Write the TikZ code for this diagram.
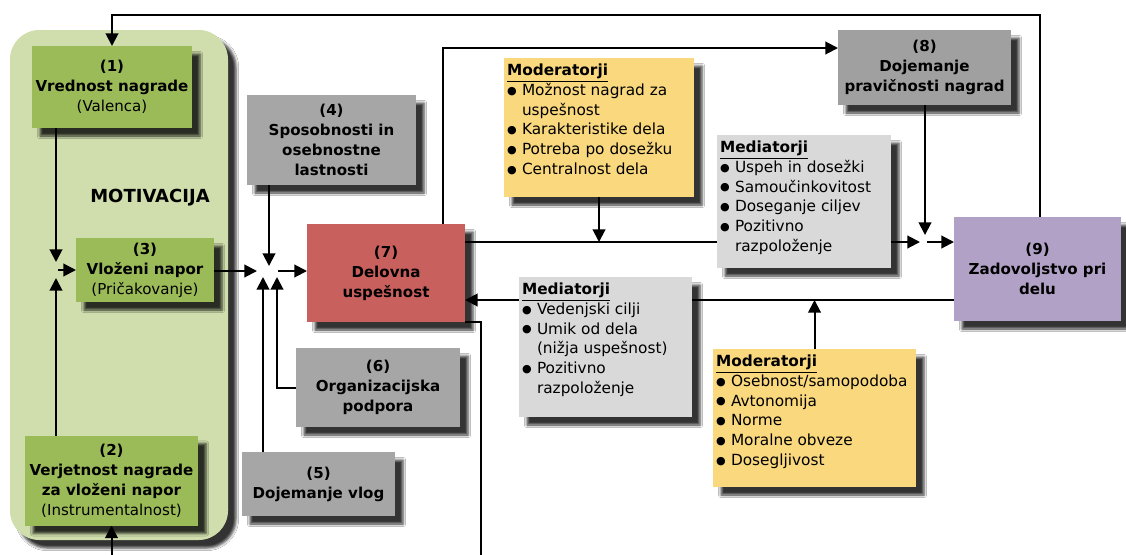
\documentclass[tikz,border=0pt]{standalone}
\usepackage{fontspec}
\usepackage{graphicx}
\setmainfont{DejaVu Sans}
\usetikzlibrary{arrows.meta,shadows.blur,calc}
\pgfdeclarelayer{bg}
\pgfsetlayers{bg,main}

% one drawing unit = one pixel of the layout grid
\newdimen\px \px=0.75pt

\definecolor{motivbg}{RGB}{207,222,172}
\definecolor{motivgreen}{RGB}{155,187,89}
\definecolor{boxgray}{RGB}{166,166,166}
\definecolor{boxgraydk}{RGB}{160,160,160}
\definecolor{perfred}{RGB}{200,96,94}
\definecolor{satpurple}{RGB}{178,161,199}
\definecolor{modyellow}{RGB}{250,216,126}
\definecolor{medgray}{RGB}{217,217,217}

% list bullet with a hanging indent
\newcommand\bl{\makebox[15\px][l]{\raisebox{0.15ex}{\scalebox{0.72}{●}}}}
\newcommand\ind{\hspace*{15\px}}

\begin{document}
\begin{tikzpicture}[x=0.75pt,y=-0.75pt,
  every node/.style={inner sep=0pt,outer sep=0pt},
  dropsh/.style={blur shadow={shadow xshift=6pt,shadow yshift=-6pt,
      shadow blur radius=2pt,shadow opacity=80}},
  numbox/.style={dropsh,align=center,font=\bfseries\fontsize{11.3}{15}\selectfont},
  greenbox/.style={numbox,fill=motivgreen},
  graybox/.style={numbox,fill=boxgray},
  listbox/.style={dropsh},
  listtext/.style={anchor=north west,align=left,font=\fontsize{11.5}{14.8}\selectfont},
  line/.style={line width=1.5pt},
  arr/.style={line,-{Triangle[length=9.5pt,width=9.5pt]}},
]
\useasboundingbox (0,0) rectangle (1126,554);
\clip (0,0) rectangle (1126,554);

\node[font=\bfseries\fontsize{13.5}{16}\selectfont] (motivlabel) at (150,198) {MOTIVACIJA};

% numbered factors
\node[greenbox,minimum width=160\px,minimum height=82\px] (n1) at (112,87) {(1)\\Vrednost nagrade\\\mdseries(Valenca)};
\node[greenbox,minimum width=138\px,minimum height=64\px] (n3) at (145,270) {(3)\\Vloženi napor\\\mdseries(Pričakovanje)};
\node[greenbox,minimum width=173\px,minimum height=90\px] (n2) at (111.5,480.5) {(2)\\Verjetnost nagrade\\za vloženi napor\\\mdseries(Instrumentalnost)};
\node[graybox,minimum width=169\px,minimum height=90\px] (n4) at (331.5,140) {(4)\\Sposobnosti in\\osebnostne\\lastnosti};
\node[numbox,fill=perfred,minimum width=158\px,minimum height=98\px] (n7) at (386,273) {(7)\\Delovna\\uspešnost};
\node[graybox,minimum width=164\px,minimum height=79\px] (n6) at (378,387.5) {(6)\\Organizacijska\\podpora};
\node[graybox,minimum width=153\px,minimum height=64\px] (n5) at (318.5,484) {(5)\\Dojemanje vlog};
\node[numbox,fill=boxgraydk,minimum width=173\px,minimum height=75\px] (n8) at (924.5,67.5) {(8)\\Dojemanje\\pravičnosti nagrad};
\node[numbox,fill=satpurple,minimum width=167\px,minimum height=104\px] (n9) at (1037.5,269) {(9)\\Zadovoljstvo pri\\delu};

% moderator and mediator lists
\node[listbox,fill=modyellow,minimum width=190\px,minimum height=139\px] (modTop) at (599,127.5) {};
\node[listtext] (modTopTxt) at ($(modTop.north west)+(3,6)$)
  {\underline{\textbf{Moderatorji}}\\\bl Možnost nagrad za\\\ind uspešnost\\\bl Karakteristike dela\\\bl Potreba po dosežku\\\bl Centralnost dela};
\node[listbox,fill=medgray,minimum width=174\px,minimum height=133\px] (medTop) at (804,201.5) {};
\node[listtext] (medTopTxt) at ($(medTop.north west)+(3,6)$)
  {\underline{\textbf{Mediatorji}}\\\bl Uspeh in dosežki\\\bl Samoučinkovitost\\\bl Doseganje ciljev\\\bl Pozitivno\\\ind razpoloženje};
\node[listbox,fill=medgray,minimum width=173\px,minimum height=140\px] (medBot) at (605.5,347) {};
\node[listtext] (medBotTxt) at ($(medBot.north west)+(3,6)$)
  {\underline{\textbf{Mediatorji}}\\\bl Vedenjski cilji\\\bl Umik od dela\\\ind (nižja uspešnost)\\\bl Pozitivno\\\ind razpoloženje};
\node[listbox,fill=modyellow,minimum width=203\px,minimum height=138\px] (modBot) at (814.5,418) {};
\node[listtext] (modBotTxt) at ($(modBot.north west)+(3,6)$)
  {\underline{\textbf{Moderatorji}}\\\bl Osebnost/samopodoba\\\bl Avtonomija\\\bl Norme\\\bl Moralne obveze\\\bl Dosegljivost};

% junction points and routing coordinates
\coordinate (J1n) at (56,262);
\coordinate (J1s) at (56,278);
\coordinate (J1e) at (58,270);
\coordinate (J2w) at (257,271);
\coordinate (J2n) at (269,266);
\coordinate (J2a) at (263,277);
\coordinate (J2b) at (277,277);
\coordinate (J2e) at (278,271);
\coordinate (J3) at (925,242);
\coordinate (J3n) at (925,235);
\coordinate (J3w) at (920,242);
\coordinate (J3e) at (927,242);
\coordinate (retY) at (0,300);
\coordinate (topR) at (443,48);
\coordinate (loopR) at (1040,15);
\coordinate (outB) at (481,570);
\coordinate (inB) at (0,570);

\begin{pgfonlayer}{bg}
  \fill[white] (0,0) rectangle (1126,554);
  % motivation panel
  \node[dropsh,fill=motivbg,rounded corners=22pt,minimum width=218\px,minimum height=510\px] (motiv) at (119,285) {};
  % motivation
  \draw[arr] (n1.south -| J1n) -- (J1n);
  \draw[arr] (n2.north -| J1s) -- (J1s);
  \draw[arr] (J1e) -- (n3.west |- J1e);
  % into performance
  \draw[arr] (n3.east |- J2w) -- (J2w);
  \draw[arr] (n4.south -| J2n) -- (J2n);
  \draw[arr] (n5.north -| J2a) -- (J2a);
  \draw[arr] (n6.west) -| (J2b);
  \draw[arr] (J2e) -- (n7.west |- J2e);
  % performance to satisfaction
  \draw[line] (n7.east |- J3) -- (medTop.west |- J3);
  \draw[arr] (modTop.south) -- (modTop.south |- J3);
  \draw[arr] (medTop.east |- J3) -- (J3w);
  \draw[arr] (n8.south -| J3n) -- (J3n);
  \draw[arr] (J3e) -- (n9.west |- J3e);
  % performance to perceived equity
  \draw[arr] (n7.north -| topR) -- (topR) -- (n8.west |- topR);
  % satisfaction back to performance
  \draw[arr] (n9.west |- retY) -- (n7.east |- retY);
  \draw[arr] (modBot.north) -- (modBot.north |- retY);
  % feedback loops
  \draw[arr] (n9.north -| loopR) -- (loopR) -| (n1.north);
  \draw[line] (n7.south east) -- (n7.south east -| outB) -- (outB);
  \draw[arr] (n2.south |- inB) -- (n2.south);
\end{pgfonlayer}
\end{tikzpicture}
\end{document}
